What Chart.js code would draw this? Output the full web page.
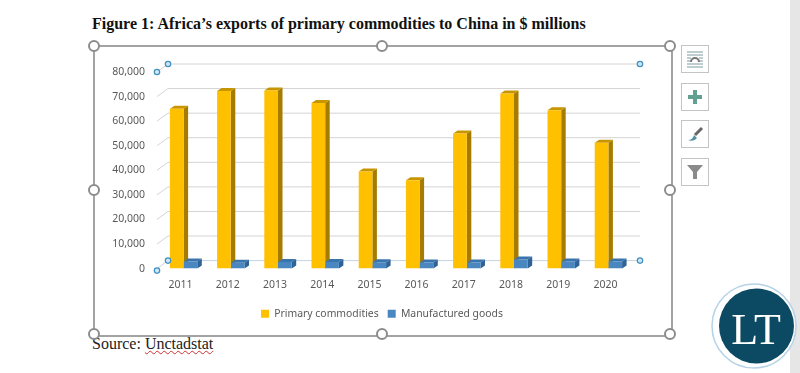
<!DOCTYPE html>
<html>
<head>
<meta charset="utf-8">
<script src="https://cdn.jsdelivr.net/npm/chart.js@4"></script>
<style>
    body { margin: 0; background: #fff; width: 800px; height: 373px; overflow: hidden; position: relative; }
    #title { position: absolute; left: 92px; top: 15px; font: bold 16px "Liberation Serif"; color: #111; white-space: nowrap; }
    #source { position: absolute; left: 92px; top: 335px; font: 16px "Liberation Serif"; color: #222; }
    #source span { text-decoration: underline wavy #d03030 1px; }
    #strip { position: absolute; left: 790px; top: 0; width: 10px; height: 373px; background: #e6e6e6; }
    #frame { position: absolute; left: 93px; top: 45px; width: 576px; height: 288px; border: 2px solid #a3a3a3; }
    canvas { position: absolute; left: 94px; top: 46px; }
    svg { position: absolute; left: 0; top: 0; }
</style>
</head>
<body>
<div id="strip"></div>
<div id="title">Figure 1: Africa’s exports of primary commodities to China in $ millions</div>
<div id="frame"></div>
<canvas id="chart" width="576" height="288"></canvas>
<div id="source">Source: <span>Unctadstat</span></div>
<svg width="800" height="373">
    <g fill="#fff" stroke="#8c8c8c" stroke-width="2">
        <circle cx="94" cy="46" r="5"/><circle cx="382" cy="46" r="5"/><circle cx="670" cy="46" r="5"/>
        <circle cx="94" cy="190" r="5"/><circle cx="670" cy="190" r="5"/>
        <circle cx="94" cy="334" r="5"/><circle cx="382" cy="334" r="5"/><circle cx="670" cy="334" r="5"/>
    </g>
    <g fill="#fff" stroke="#c4c4c4" stroke-width="1">
        <rect x="681.5" y="45.5" width="27" height="27"/><rect x="681.5" y="83.5" width="27" height="27"/>
        <rect x="681.5" y="120.5" width="27" height="27"/><rect x="681.5" y="158.5" width="27" height="27"/>
    </g>
    <g stroke="#7d9aa0" stroke-width="1">
        <path d="M687 52h16M687 55h16M687 64h16M687 67h16M687 58h4M699 58h4M687 61h4M699 61h4"/>
    </g>
    <path d="M691 62a4 4 0 0 1 8 0" fill="none" stroke="#777" stroke-width="2"/>
    <path d="M695 90v14M688 97h14" stroke="#62a08f" stroke-width="4"/>
    <path d="M702 128l-7 7" stroke="#666" stroke-width="3"/>
    <path d="M688 140q5 0 6-5l3 3q-3 4-9 2z" fill="#4f8fa5"/>
    <path d="M687 165h16l-6 7v7h-4v-7z" fill="#8a8a8a"/>
    <circle cx="754" cy="326" r="42" fill="#fff" stroke="#b5d2e6" stroke-width="1.5"/>
    <circle cx="756.5" cy="326" r="37.5" fill="#0c4a63"/>
    <text x="756" y="344" text-anchor="middle" font-family="Liberation Serif" font-size="44" fill="#fff">LT</text>
</svg>
<script>
const categories = ['2011', '2012', '2013', '2014', '2015', '2016', '2017', '2018', '2019', '2020'];
const primaryCommodities = [65000, 72300, 72500, 67400, 39500, 36000, 55000, 71300, 64400, 51200];
const manufacturedGoods = [2900, 2400, 2700, 2700, 2600, 2500, 2500, 3700, 2900, 2900];
const yTicks = [0, 10000, 20000, 30000, 40000, 50000, 60000, 70000, 80000];

// fake 3D: back wall grid plus bar sides and caps, all placed from the scales
const depthPlugin = {
    id: 'depth',
    afterLayout(chart) {
        // centre the legend on the whole canvas, not on the padded area
        chart.legend.left += 19;
        chart.legend.right += 19;
    },
    beforeDatasetsDraw(chart) {
        const ctx = chart.ctx;
        const y = chart.scales.y;
        const left = chart.chartArea.left - 3;
        const right = chart.chartArea.right + 8;
        ctx.save();
        ctx.lineWidth = 1;
        yTicks.forEach(v => {
            const py = y.getPixelForValue(v);
            ctx.strokeStyle = v === 0 ? '#c5d3e0' : '#d4d4d4';
            ctx.beginPath();
            ctx.moveTo(left, py);
            ctx.lineTo(left + 11, py - 8);
            ctx.lineTo(right, py - 8);
            ctx.stroke();
        });
        const sides = ['#a67c00', '#2f6296'];
        const caps = ['#c79500', '#3a74ad'];
        chart.data.datasets.forEach((ds, i) => {
            chart.getDatasetMeta(i).data.forEach(bar => {
                const l = bar.x - bar.width / 2;
                const r = bar.x + bar.width / 2;
                ctx.fillStyle = sides[i];
                ctx.beginPath();
                ctx.moveTo(r, bar.y);
                ctx.lineTo(r + 4.5, bar.y - 3);
                ctx.lineTo(r + 4.5, bar.base - 3);
                ctx.lineTo(r, bar.base);
                ctx.fill();
                ctx.fillStyle = caps[i];
                ctx.beginPath();
                ctx.moveTo(l, bar.y);
                ctx.lineTo(l + 4.5, bar.y - 3);
                ctx.lineTo(r + 4.5, bar.y - 3);
                ctx.lineTo(r, bar.y);
                ctx.fill();
            });
        });
        ctx.restore();
    },
    afterDraw(chart) {
        const ctx = chart.ctx;
        const y = chart.scales.y;
        const left = chart.chartArea.left - 3;
        const right = chart.chartArea.right + 8;
        const top = y.getPixelForValue(80000);
        const bottom = y.getPixelForValue(0);
        // selection handles on the chart's walls
        const handles = [[left, top], [left + 11, top - 8], [left, bottom + 2], [left + 11, bottom - 8], [right, top - 8], [right, bottom - 8]];
        ctx.save();
        handles.forEach(h => {
            ctx.beginPath();
            ctx.arc(h[0], h[1], 2.7, 0, Math.PI * 2);
            ctx.fillStyle = '#cfe6f5';
            ctx.fill();
            ctx.strokeStyle = '#3f8fc0';
            ctx.lineWidth = 1.2;
            ctx.stroke();
        });
        ctx.restore();
    }
};

new Chart(document.getElementById('chart').getContext('2d'), {
    type: 'bar',
    data: {
        labels: categories,
        datasets: [
            { label: 'Primary commodities', data: primaryCommodities, backgroundColor: '#ffc000' },
            { label: 'Manufactured goods', data: manufacturedGoods, backgroundColor: '#4a86c0' }
        ]
    },
    options: {
        responsive: false,
        animation: false,
        layout: { padding: { left: 0, right: 38, top: 26, bottom: 5 } },
        datasets: { bar: { categoryPercentage: 0.58, barPercentage: 1 } },
        plugins: {
            tooltip: { enabled: false },
            legend: {
                position: 'bottom',
                labels: {
                    boxWidth: 8,
                    boxHeight: 8,
                    padding: 9,
                    color: '#595959',
                    font: { family: 'Noto Sans', size: 10.4 }
                }
            }
        },
        scales: {
            x: {
                grid: { display: false },
                border: { display: false },
                afterFit(scale) { scale.height = 31; },
                ticks: {
                    color: '#595959',
                    font: { family: 'Noto Sans', size: 10.5 },
                    padding: 2,
                    labelOffset: -3,
                    maxRotation: 0
                }
            },
            y: {
                min: 0,
                max: 80000,
                afterFit(scale) { scale.width = 66; },
                afterBuildTicks(scale) { scale.ticks = yTicks.map(v => ({ value: v })); },
                grid: { display: false },
                border: { display: false },
                ticks: {
                    color: '#595959',
                    font: { family: 'Noto Sans', size: 10.5 },
                    padding: 7,
                    callback: v => v.toLocaleString('en-US')
                }
            }
        }
    },
    plugins: [depthPlugin]
});
</script>
</body>
</html>
